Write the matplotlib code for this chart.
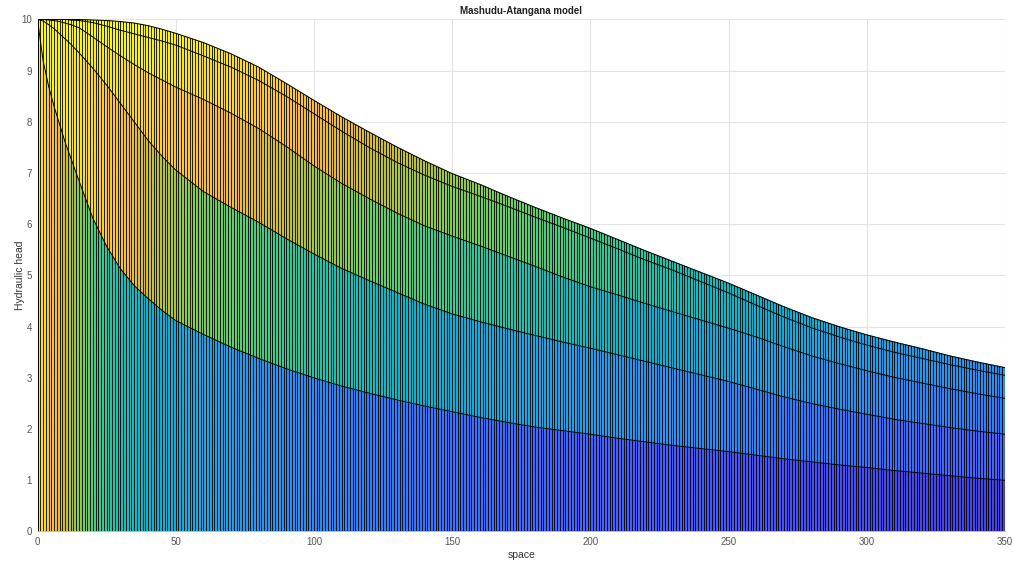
import numpy as np
import matplotlib.pyplot as plt
from matplotlib.colors import LinearSegmentedColormap, Normalize
from matplotlib.patches import Polygon

# head profiles (space -> hydraulic head), lowest to highest
space = [0, 2, 4, 6, 8, 10, 12, 15, 20, 25, 30, 35, 40, 45, 50,
         60, 70, 80, 90, 100, 110, 120, 130, 140, 150, 160, 170, 180, 190, 200,
         210, 220, 230, 240, 250, 260, 270, 280, 290, 300, 310, 320, 330, 340, 350]

head_1 = [10, 9.2, 8.7, 8.3, 7.95, 7.6, 7.3, 6.85, 6.12, 5.57, 5.13, 4.8, 4.55, 4.32, 4.12,
          3.85, 3.6, 3.38, 3.18, 3.0, 2.84, 2.7, 2.57, 2.45, 2.34, 2.23, 2.13, 2.04, 1.97, 1.9,
          1.82, 1.75, 1.68, 1.62, 1.56, 1.49, 1.42, 1.36, 1.3, 1.25, 1.19, 1.14, 1.09, 1.04, 1.0]
head_2 = [10, 9.97, 9.9, 9.82, 9.72, 9.62, 9.52, 9.35, 9.05, 8.72, 8.36, 8.0, 7.64, 7.33, 7.06,
          6.64, 6.33, 6.04, 5.72, 5.42, 5.14, 4.9, 4.67, 4.44, 4.25, 4.1, 3.96, 3.83, 3.7, 3.58,
          3.45, 3.32, 3.19, 3.06, 2.93, 2.78, 2.63, 2.5, 2.39, 2.29, 2.19, 2.11, 2.03, 1.96, 1.9]
head_3 = [10, 10, 9.99, 9.98, 9.96, 9.93, 9.9, 9.84, 9.66, 9.47, 9.29, 9.12, 8.96, 8.82, 8.68,
          8.44, 8.17, 7.87, 7.52, 7.14, 6.8, 6.5, 6.22, 5.97, 5.77, 5.58, 5.38, 5.18, 4.97, 4.78,
          4.62, 4.45, 4.29, 4.13, 3.97, 3.8, 3.61, 3.43, 3.28, 3.14, 3.01, 2.9, 2.79, 2.69, 2.6]
head_4 = [10, 10, 10, 10, 10, 10, 9.99, 9.98, 9.94, 9.87, 9.79, 9.72, 9.65, 9.58, 9.5,
          9.29, 9.07, 8.81, 8.5, 8.16, 7.82, 7.5, 7.21, 6.96, 6.74, 6.55, 6.35, 6.14, 5.94, 5.73,
          5.52, 5.3, 5.1, 4.88, 4.66, 4.42, 4.19, 3.98, 3.8, 3.64, 3.5, 3.38, 3.26, 3.15, 3.05]
head_5 = [10, 10, 10, 10, 10, 10, 10, 10, 9.99, 9.98, 9.96, 9.93, 9.88, 9.81, 9.73,
          9.55, 9.33, 9.07, 8.75, 8.42, 8.1, 7.8, 7.51, 7.24, 6.99, 6.78, 6.55, 6.33, 6.12, 5.92,
          5.7, 5.48, 5.27, 5.06, 4.85, 4.62, 4.39, 4.18, 4.0, 3.84, 3.7, 3.57, 3.43, 3.31, 3.2]

x_ticks = [0, 50, 100, 150, 200, 250, 300, 350]
y_ticks = [0, 1, 2, 3, 4, 5, 6, 7, 8, 9, 10]

# parula (matlab default colormap), a few anchor points
parula_pts = [
    (0 / 63, (0.2422, 0.1504, 0.6603)), (4 / 63, (0.2706, 0.2147, 0.8364)),
    (8 / 63, (0.2813, 0.3006, 0.9414)), (12 / 63, (0.2699, 0.3892, 0.9906)),
    (16 / 63, (0.1963, 0.4847, 0.9892)), (20 / 63, (0.1687, 0.5703, 0.9359)),
    (24 / 63, (0.1248, 0.6459, 0.8883)), (28 / 63, (0.0297, 0.7082, 0.8163)),
    (32 / 63, (0.0964, 0.7500, 0.7120)), (36 / 63, (0.2161, 0.7843, 0.5923)),
    (40 / 63, (0.3909, 0.8029, 0.4354)), (44 / 63, (0.6174, 0.7876, 0.2612)),
    (48 / 63, (0.8203, 0.7498, 0.1535)), (52 / 63, (0.9728, 0.7298, 0.2394)),
    (56 / 63, (0.9892, 0.8136, 0.1885)), (60 / 63, (0.9597, 0.9135, 0.1423)),
    (1.0, (0.9769, 0.9839, 0.0805))]
parula = LinearSegmentedColormap.from_list('parula', parula_pts)
norm = Normalize(0, 10)

plt.rcParams['font.family'] = ['Liberation Sans', 'DejaVu Sans']

fig = plt.figure(figsize=(10.14, 5.65), dpi=100)
ax = fig.add_axes([0.037, 0.0593, 0.9541, 0.9062])

xs = np.array(space, dtype=float)
rows = [np.zeros_like(xs)] + [np.array(h) for h in (head_1, head_2, head_3, head_4, head_5)]

# each band of the surface coloured by its upper profile
for low, up in zip(rows[:-1], rows[1:]):
    X = np.vstack([xs, xs])
    Y = np.vstack([low, up])
    C = np.vstack([up, up])
    ax.pcolormesh(X, Y, C, cmap=parula, norm=norm, shading='gouraud', zorder=2)

# mesh edges along the time direction
outline = Polygon(np.column_stack([np.r_[xs, xs[::-1]], np.r_[rows[-1], np.zeros_like(xs)]]),
                  closed=True, transform=ax.transData)
edges = ax.vlines(np.arange(0, 351, 1), 0, 10, colors='k', linewidth=0.6, zorder=3)
edges.set_clip_path(outline)

for r in rows[1:]:
    ax.plot(xs, r, color='k', linewidth=0.7, zorder=4)
ax.plot([0, 0], [0, 10], color='k', linewidth=0.6, zorder=4)

ax.set_xlim(0, 350)
ax.set_ylim(0, 10)
ax.set_xticks(x_ticks)
ax.set_yticks(y_ticks)
ax.grid(True, color='#e3e3e3', linewidth=0.8)
ax.set_axisbelow(True)
for s in ['top', 'right']:
    ax.spines[s].set_visible(False)
for s in ['left', 'bottom']:
    ax.spines[s].set_color('#b0b0b0')
    ax.spines[s].set_linewidth(0.6)
ax.tick_params(length=0, labelsize=7, labelcolor='#555555', pad=4)

ax.set_title('Mashudu-Atangana model', fontsize=7, fontweight='bold', color='#222222', pad=4)
ax.set_xlabel('space', fontsize=7.5, color='#333333', labelpad=2)
ax.set_ylabel('Hydraulic head', fontsize=7.5, color='#333333', labelpad=-2.5)

fig.savefig('out.png', dpi=100)
